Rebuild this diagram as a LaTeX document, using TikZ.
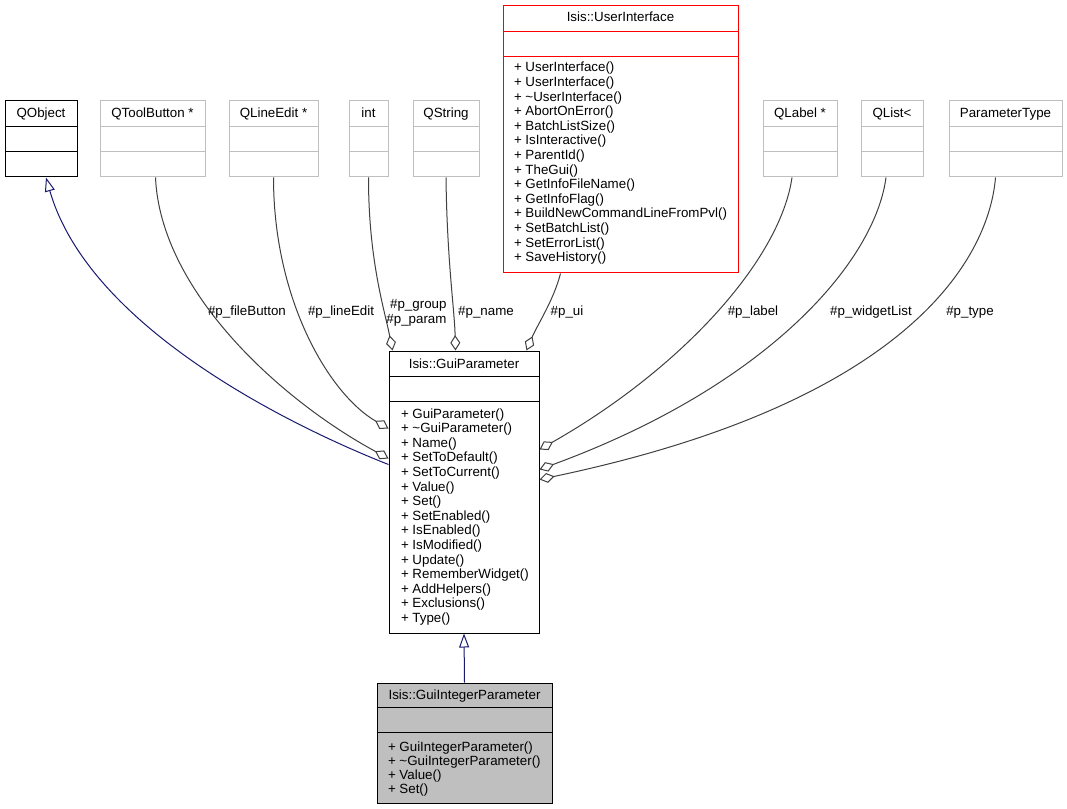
\documentclass[tikz,border=0pt]{standalone}
\usepackage{fontspec}
\setmainfont{Liberation Sans}
\usetikzlibrary{fit,calc,arrows.meta}
\definecolor{navyc}{HTML}{191970}
\definecolor{assocc}{HTML}{404040}
\definecolor{greyb}{HTML}{BFBFBF}
\definecolor{redb}{HTML}{FF0000}
\begin{document}
\begin{tikzpicture}[x=0.75pt,y=-0.75pt, line width=0.75pt,
  every node/.style={font=\fontsize{10}{11}\selectfont},
  txt/.style={inner sep=0pt, anchor=base},
  mtxt/.style={inner sep=0pt, anchor=base west},
  blackcls/.style={draw=black, inner sep=0pt},
  graycls/.style={draw=greyb, inner sep=0pt},
  redcls/.style={draw=redb, inner sep=0pt},
  fillcls/.style={draw=black, fill=greyb, inner sep=0pt},
  assocline/.style={draw=assocc, -{Diamond[open, length=11.5pt, width=7.5pt, fill=white]}},
  inhline/.style={draw=navyc, -{Triangle[open, length=10.5pt, width=7.5pt, fill=white]}},
]
\fill[white] (0,0) rectangle (1067,809);
\useasboundingbox (0,0) rectangle (1067,809);

% QObject
\node[blackcls, fit={(5,101)(77,177)}] (qobj) {};
\draw[black] ($(qobj.north west)+(0,26)$) -- ($(qobj.north east)+(0,26)$);
\draw[black] ($(qobj.north west)+(0,51)$) -- ($(qobj.north east)+(0,51)$);
\node[txt] at ($(qobj.north)+(0,17.5)$) {QObject};

% gray classes
\foreach \nm/\xa/\xb/\ttl in {qtb/100/205/{QToolButton *}, qle/229/318/{QLineEdit *}, qint/349/388/{int}, qstr/413/479/{QString}, qlab/763/837/{QLabel *}, qlist/861/923/{QList<}, ptype/949/1062/{ParameterType}}{
  \node[graycls, fit={(\xa,101)(\xb,177)}] (\nm) {};
  \draw[greyb] ($(\nm.north west)+(0,26)$) -- ($(\nm.north east)+(0,26)$);
  \draw[greyb] ($(\nm.north west)+(0,51)$) -- ($(\nm.north east)+(0,51)$);
  \node[txt] at ($(\nm.north)+(0,17.5)$) {\ttl};
}

% Isis::UserInterface
\node[redcls, fit={(503,6)(738,273)}] (ui) {};
\draw[redb] ($(ui.north west)+(0,26)$) -- ($(ui.north east)+(0,26)$);
\draw[redb] ($(ui.north west)+(0,51)$) -- ($(ui.north east)+(0,51)$);
\node[txt] at ($(ui.north)+(0,16.5)$) {Isis::UserInterface};
\foreach \m [count=\i from 0] in {+ UserInterface(), + UserInterface(), + \textasciitilde UserInterface(), + AbortOnError(), + BatchListSize(), + IsInteractive(), + ParentId(), + TheGui(), + GetInfoFileName(), + GetInfoFlag(), + BuildNewCommandLineFromPvl(), + SetBatchList(), + SetErrorList(), + SaveHistory()}{
  \node[mtxt] at ($(ui.north west)+(11,{66.5+14.6*\i})$) {\m};
}

% Isis::GuiParameter
\node[blackcls, fit={(389,351)(539,633)}] (gp) {};
\draw[black] ($(gp.north west)+(0,26)$) -- ($(gp.north east)+(0,26)$);
\draw[black] ($(gp.north west)+(0,51)$) -- ($(gp.north east)+(0,51)$);
\node[txt] at ($(gp.north)+(0,17.5)$) {Isis::GuiParameter};
\foreach \m [count=\i from 0] in {+ GuiParameter(), + \textasciitilde GuiParameter(), + Name(), + SetToDefault(), + SetToCurrent(), + Value(), + Set(), + SetEnabled(), + IsEnabled(), + IsModified(), + Update(), + RememberWidget(), + AddHelpers(), + Exclusions(), + Type()}{
  \node[mtxt] at ($(gp.north west)+(12,{67.5+14.6*\i})$) {\m};
}

% Isis::GuiIntegerParameter
\node[fillcls, fit={(377,683)(552,803)}] (gip) {};
\draw[black] ($(gip.north west)+(0,25)$) -- ($(gip.north east)+(0,25)$);
\draw[black] ($(gip.north west)+(0,50)$) -- ($(gip.north east)+(0,50)$);
\node[txt] at ($(gip.north)+(0,16.5)$) {Isis::GuiIntegerParameter};
\foreach \m [count=\i from 0] in {+ GuiIntegerParameter(), + \textasciitilde GuiIntegerParameter(), + Value(), + Set()}{
  \node[mtxt] at ($(gip.north west)+(11,{68.5+14.2*\i})$) {\m};
}

% inheritance
\draw[inhline] ($(gp.north west)+(0,114)$) .. controls +(-89,-35) and +(44,153) .. ($(qobj.south)+(5,0)$);
\draw[inhline] (gip.north) -- (gp.south);

% associations
\draw[assocline] ($(qtb.south)+(3,0)$) .. controls +(5,113) and +(-109,-59) .. ($(gp.north west)+(0,108)$);
\draw[assocline] (qle.south) .. controls +(0,123) and +(-59,-34) .. ($(gp.north west)+(0,78)$);
\draw[assocline] (qint.south) .. controls +(0,83) and +(-8,-41) .. ($(gp.north west)+(4,0)$);
\draw[assocline] (qstr.south) .. controls +(1,83) and +(-1,-41) .. ($(gp.north west)+(67,0)$);
\draw[assocline] ($(ui.south)+(-60,0)$) .. controls +(-7,27) and +(11,-26) .. ($(gp.north west)+(138,0)$);
\draw[assocline] ($(qlab.south)+(-8,0)$) .. controls +(-12,83) and +(141,-80) .. ($(gp.north east)+(0,99)$);
\draw[assocline] ($(qlist.south)+(-6,0)$) .. controls +(-11,83) and +(231,-85) .. ($(gp.north east)+(0,119)$);
\draw[assocline] ($(ptype.south)+(-10,0)$) .. controls +(-6,73) and +(381,-80) .. ($(gp.north east)+(0,129)$);

% edge labels
\node[txt] (lfb) at (247,315.5) {\#p\_fileButton};
\node[txt] (lle) at (341,315.5) {\#p\_lineEdit};
\node[inner sep=0pt, anchor=base east] (lgr) at (447,308.5) {\#p\_group};
\node[inner sep=0pt, anchor=base east] (lpa) at (447,323.5) {\#p\_param};
\node[txt] (lnm) at (486,315.5) {\#p\_name};
\node[txt] (lui) at (567,315.5) {\#p\_ui};
\node[txt] (llb) at (753,315.5) {\#p\_label};
\node[txt] (lwl) at (871,315.5) {\#p\_widgetList};
\node[txt] (lty) at (970,315.5) {\#p\_type};
\end{tikzpicture}
\end{document}
